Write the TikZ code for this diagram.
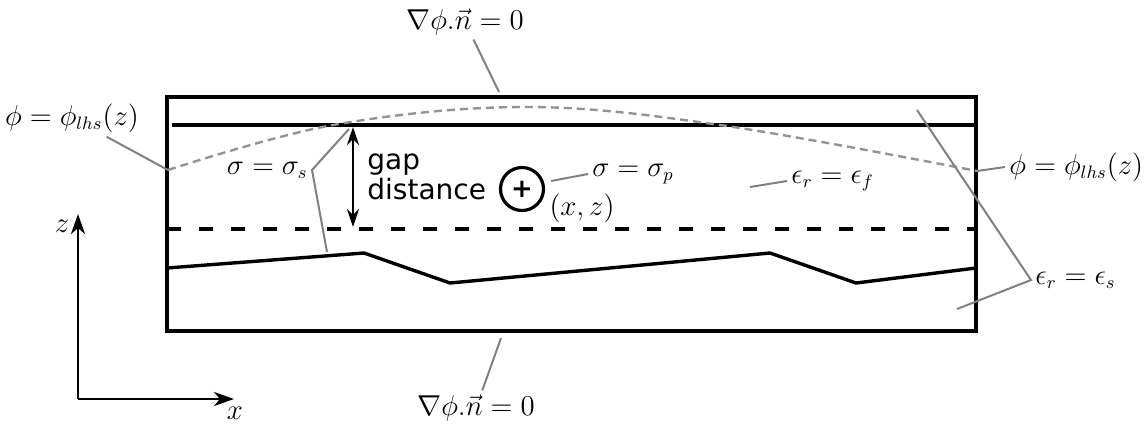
\documentclass[tikz,border=0pt]{standalone}
\usepackage{fontspec}
\newfontfamily\gapfont{DejaVu Sans}
\usetikzlibrary{positioning,arrows.meta}
\definecolor{leadgray}{RGB}{128,128,128}

\begin{document}
\begin{tikzpicture}[
  x=0.5pt,y=-0.5pt,
  font=\fontsize{13.3}{15}\selectfont,
  wall/.style={line width=1.7pt},
  lab/.style={inner sep=2pt},
  lead/.style={draw=leadgray,line width=1pt},
  gdash/.style={draw=leadgray!85,line width=1.2pt,dash pattern=on 4pt off 2.5pt},
  ar/.style={-{Stealth[length=10pt,width=7pt,inset=3pt]},line width=1.4pt},
  dimar/.style={{Stealth[length=9pt,width=6pt,inset=3pt]}-{Stealth[length=9pt,width=6pt,inset=3pt]},line width=1.3pt},
  particle/.style={draw,circle,line width=1.6pt,minimum size=21.5pt,inner sep=0pt,font=\gapfont\bfseries\fontsize{13}{15}\selectfont},
  gaptext/.style={align=left,inner sep=0pt,font=\gapfont\fontsize{14}{15.2}\selectfont}]
  \useasboundingbox (0,0) rectangle (1146,425);
  % domain and surfaces
  \draw[wall] (167,97) rectangle (976,331);
  \draw[wall] (172,125) -- (976,125);
  \draw[wall,dash pattern=on 7pt off 9pt] (167,229) -- (976,229);
  \draw[wall,line join=round] (167,268) -- (364,253) -- (450,283) -- (770,253) -- (856,283) -- (976,268);
  \coordinate (lhsL) at (168,170);
  \coordinate (lhsR) at (977,171);
  \draw[gdash] plot[smooth,tension=0.6] coordinates {(lhsL) (333,125) (525,107) (720,125) (lhsR)};
  % gap
  \coordinate (gaptop) at (353,127);
  \coordinate (gapbot) at (353,227);
  \draw[dimar] (gaptop) -- (gapbot);
  \node[gaptext,anchor=west] (gap) at (367,177) {gap\\distance};
  % particle
  \node[particle] (part) at (522,189) {+};
  \node[lab] (pos) at (582,208) {$(x,z)$};
  % labels and leaders
  \node[lab] (topbc) at (465,22) {$\nabla\phi.\vec{n}=0$};
  \node[lab] (botbc) at (476,408) {$\nabla\phi.\vec{n}=0$};
  \coordinate (topbcend) at (499,92);
  \coordinate (botbcend) at (501,338);
  \draw[lead] (topbc) -- (topbcend);
  \draw[lead] (botbc) -- (botbcend);
  \node[lab] (lhsl) at (72,118) {$\phi=\phi_{lhs}(z)$};
  \draw[lead] (lhsl) -- (lhsL);
  \node[lab,anchor=west] (lhsr) at (1005,167) {$\phi=\phi_{lhs}(z)$};
  \draw[lead] (lhsr.west) -- (lhsR);
  \node[lab,anchor=east] (sigs) at (312,170) {$\sigma=\sigma_s$};
  \coordinate (sigsA) at (349,129);
  \coordinate (sigsB) at (327,252);
  \draw[lead] (sigsA) -- (sigs.east) -- (sigsB);
  \node[lab,anchor=west] (sigp) at (588,174) {$\sigma=\sigma_p$};
  \coordinate (sigpend) at (551,181);
  \draw[lead] (sigpend) -- (sigp.west);
  \node[lab,anchor=west] (epsf) at (787,181) {$\epsilon_r=\epsilon_f$};
  \coordinate (epsfend) at (750,187);
  \draw[lead] (epsfend) -- (epsf.west);
  \node[lab,anchor=west] (epss) at (1031,280) {$\epsilon_r=\epsilon_s$};
  \coordinate (epssA) at (917,110);
  \coordinate (epssB) at (957,309);
  \draw[lead] (epssA) -- (epss.west) -- (epssB);
  % axes
  \coordinate (origin) at (78,399);
  \coordinate (zend) at (78,214);
  \coordinate (xend) at (234,399);
  \draw[ar] (origin) -- (zend);
  \draw[ar] (origin) -- (xend);
  \node[lab] (zlab) at (62,226) {$z$};
  \node[lab] (xlab) at (235,413) {$x$};
\end{tikzpicture}
\end{document}
